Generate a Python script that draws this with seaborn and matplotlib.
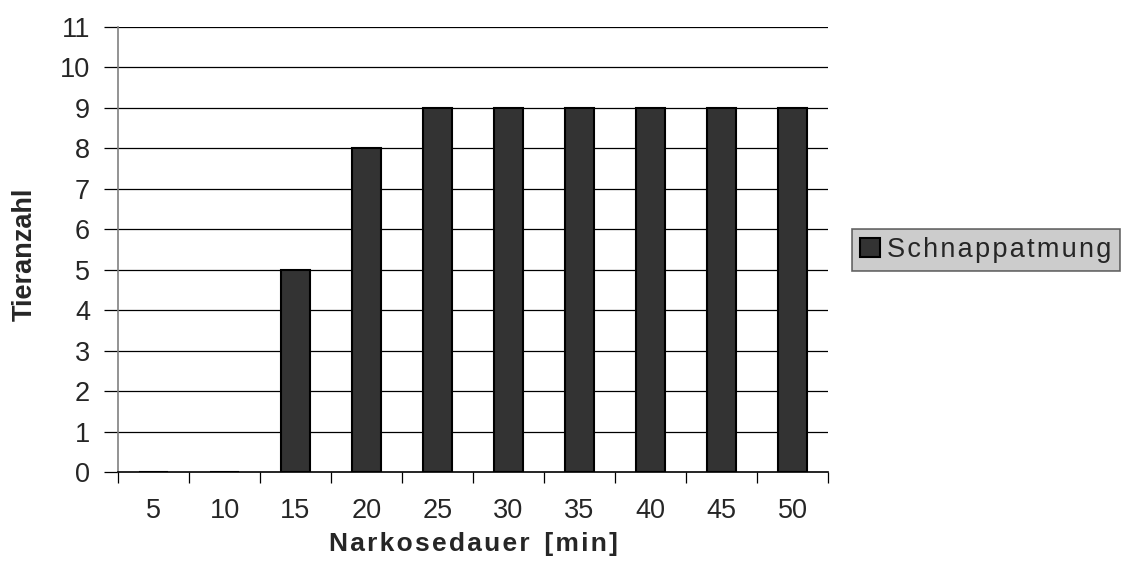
import matplotlib
matplotlib.use("Agg")
import matplotlib.pyplot as plt
import seaborn as sns
import pandas as pd
import numpy as np
from matplotlib.patches import Patch

categories = ["5", "10", "15", "20", "25", "30", "35", "40", "45", "50"]
values = [0, 0, 5, 8, 9, 9, 9, 9, 9, 9]
series_name = "Schnappatmung"
yticks = list(range(0, 12))

sns.set_theme(style="white")
plt.rcParams['font.family'] = ['Liberation Sans', 'DejaVu Sans']

HS = "\u200a"
def spaced(s):
    return HS.join(list(s))

df = pd.DataFrame({"Narkosedauer": categories, "Tieranzahl": values, "Serie": series_name})

fig = plt.figure(figsize=(11.28, 5.78), dpi=100)
ax = fig.add_axes([118/1128, (578-472)/578, (828-118)/1128, (472-27)/578])

sns.barplot(data=df, x="Narkosedauer", y="Tieranzahl", hue="Serie", order=categories,
            palette=["#333333"], width=0.41, edgecolor="black", linewidth=1.5,
            legend=False, ax=ax, zorder=3)

ax.set_xlim(-0.5, len(categories) - 0.5)
ax.set_ylim(0, 11)
ax.set_yticks(yticks)
ax.set_yticklabels([str(t) for t in yticks], fontsize=19.5)
for y in yticks[1:]:
    ax.axhline(y, color="black", linewidth=0.9, zorder=1)

ax.set_xticks(range(len(categories)))
ax.set_xticklabels(categories, fontsize=19.5)
ax.set_xticks(np.arange(-0.5, len(categories), 1.0), minor=True)
ax.tick_params(axis="x", which="major", length=0, pad=19)
ax.tick_params(axis="x", which="minor", length=8, width=0.9, color="black", direction="out", bottom=True)
ax.tick_params(axis="y", which="major", length=10, width=0.9, color="black", direction="out", left=True, pad=10)

for s in ["top", "right"]:
    ax.spines[s].set_visible(False)
ax.spines["left"].set_color("#808080")
ax.spines["left"].set_linewidth(1.2)
ax.spines["bottom"].set_color("black")
ax.spines["bottom"].set_linewidth(1.2)
ax.spines["bottom"].set_zorder(4)

ax.set_xlabel(spaced("Narkosedauer") + "  " + spaced("[min]"), fontsize=19, fontweight="bold")
ax.xaxis.set_label_coords(0.5, -0.135)
ax.set_ylabel("Tieranzahl", fontsize=19.5, fontweight="bold")
ax.yaxis.set_label_coords(-0.113, 0.49)

handle = Patch(facecolor="#333333", edgecolor="black", linewidth=1.5)
leg = fig.legend([handle], [spaced(series_name)], loc="center left",
                 bbox_to_anchor=(852/1128, 1 - 250/578), fontsize=19.5, frameon=True,
                 fancybox=False, handlelength=0.75, handleheight=0.75, handletextpad=0.25,
                 borderpad=0.3, borderaxespad=0)
leg.get_frame().set_facecolor("#C0C0C0")
leg.get_frame().set_edgecolor("#444444")
leg.get_frame().set_linewidth(1.2)

fig.savefig("out.png", dpi=100)
